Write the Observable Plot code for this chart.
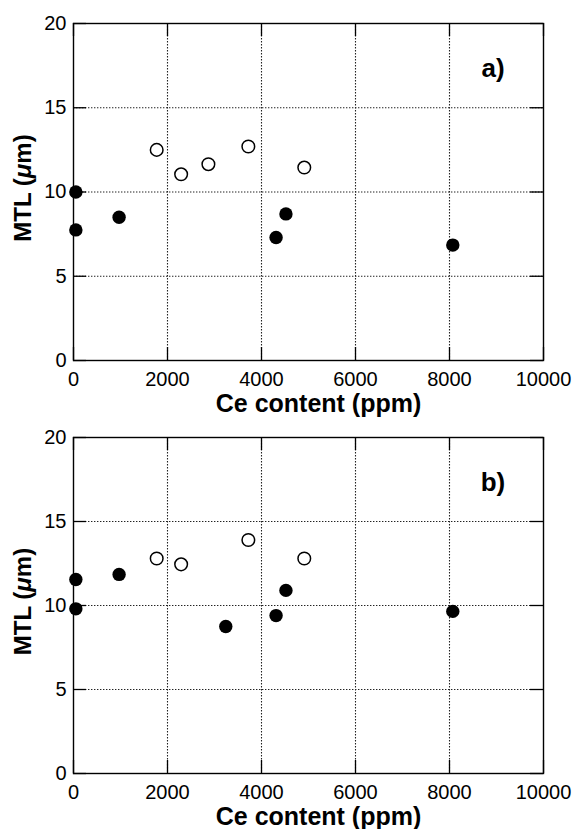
<!DOCTYPE html>
<html>
<head>
<meta charset="utf-8">
<script src="https://cdn.jsdelivr.net/npm/d3@7"></script>
<script src="https://cdn.jsdelivr.net/npm/@observablehq/plot@0.6"></script>
<style>
  body { margin: 0; background: #fff; }
  svg { display: block; }
</style>
</head>
<body>
<div id="chart"></div>
<script>
// Panel a) — filled and open circles
const ceA_filled  = [50, 50, 970, 4310, 4520, 8070];
const mtlA_filled = [10.0, 7.75, 8.5, 7.3, 8.7, 6.85];
const ceA_open    = [1770, 2290, 2870, 3720, 4910];
const mtlA_open   = [12.5, 11.05, 11.65, 12.7, 11.45];

// Panel b)
const ceB_filled  = [50, 50, 970, 3240, 4310, 4520, 8070];
const mtlB_filled = [11.55, 9.8, 11.85, 8.75, 9.4, 10.9, 9.65];
const ceB_open    = [1770, 2290, 3720, 4910];
const mtlB_open   = [12.8, 12.45, 13.9, 12.8];

const panelLabels = ["a)", "b)"];
const xTitle = "Ce content (ppm)";
const yTitle = "MTL (μm)";
const xTicks = [0, 2000, 4000, 6000, 8000, 10000];
const yTicks = [0, 5, 10, 15, 20];
const xGrid = [2000, 4000, 6000, 8000];
const yGrid = [5, 10, 15];

const W = 574, ML = 73, MR = 31;
const FONT = "'Liberation Sans', Arial, Helvetica, sans-serif";

function toRows(xs, ys) { return xs.map((x, i) => ({ce: x, mtl: ys[i]})); }

function panel(label, filled, open, height, marginTop, marginBottom) {
  const plotH = height - marginTop - marginBottom;
  const plotW = W - ML - MR;
  const tick = 13;
  const svg = Plot.plot({
    width: W, height, marginTop, marginBottom, marginLeft: ML, marginRight: MR,
    style: {fontFamily: FONT, background: "white", color: "black"},
    x: {domain: [0, 10000]},
    y: {domain: [0, 20]},
    marks: [
      Plot.ruleX(xGrid, {stroke: "#222", strokeWidth: 1.1, strokeDasharray: "1.4,1.6"}),
      Plot.ruleY(yGrid, {stroke: "#222", strokeWidth: 1.1, strokeDasharray: "1.4,1.6"}),
      Plot.ruleX(xTicks, {insetTop: plotH - tick, stroke: "black", strokeWidth: 1.3}),
      Plot.ruleX(xTicks, {insetBottom: plotH - tick, stroke: "black", strokeWidth: 1.3}),
      Plot.ruleY(yTicks, {insetRight: plotW - tick, stroke: "black", strokeWidth: 1.3}),
      Plot.ruleY(yTicks, {insetLeft: plotW - tick, stroke: "black", strokeWidth: 1.3}),
      Plot.frame({stroke: "black", strokeWidth: 1.4}),
      Plot.axisX(xTicks, {tickSize: 0, tickPadding: 11, fontSize: 20, tickFormat: d => String(d), label: null}),
      Plot.axisY(yTicks, {tickSize: 0, tickPadding: 7, fontSize: 20, tickFormat: d => String(d), label: null}),
      Plot.dot(filled, {x: "ce", y: "mtl", r: 6.7, fill: "black", stroke: null}),
      Plot.dot(open, {x: "ce", y: "mtl", r: 6.3, fill: "white", stroke: "black", strokeWidth: 1.5}),
      Plot.text([label], {frameAnchor: "top-right", dx: -50.5, dy: 45, fontSize: 26, fontWeight: "bold", textAnchor: "middle", lineAnchor: "middle"}),
      Plot.text([xTitle], {frameAnchor: "bottom", dx: 10, dy: 43, fontSize: 25, fontWeight: "bold", textAnchor: "middle", lineAnchor: "middle"}),
      Plot.text([yTitle], {frameAnchor: "left", rotate: -90, dx: -50, dy: -4, fontSize: 24, fontWeight: "bold", textAnchor: "middle", lineAnchor: "middle"})
    ]
  });
  // italic mu in y title
  d3.select(svg).selectAll("text").filter(function() { return this.textContent === yTitle; })
    .each(function() {
      const t = d3.select(this);
      t.text(null);
      t.append("tspan").text("MTL (");
      t.append("tspan").attr("font-style", "italic").text("μ");
      t.append("tspan").text("m)");
    });
  return svg;
}

const chart = document.getElementById("chart");
chart.appendChild(panel(panelLabels[0], toRows(ceA_filled, mtlA_filled), toRows(ceA_open, mtlA_open), 418, 23, 58));
chart.appendChild(panel(panelLabels[1], toRows(ceB_filled, mtlB_filled), toRows(ceB_open, mtlB_open), 411, 19, 56));
</script>
</body>
</html>
